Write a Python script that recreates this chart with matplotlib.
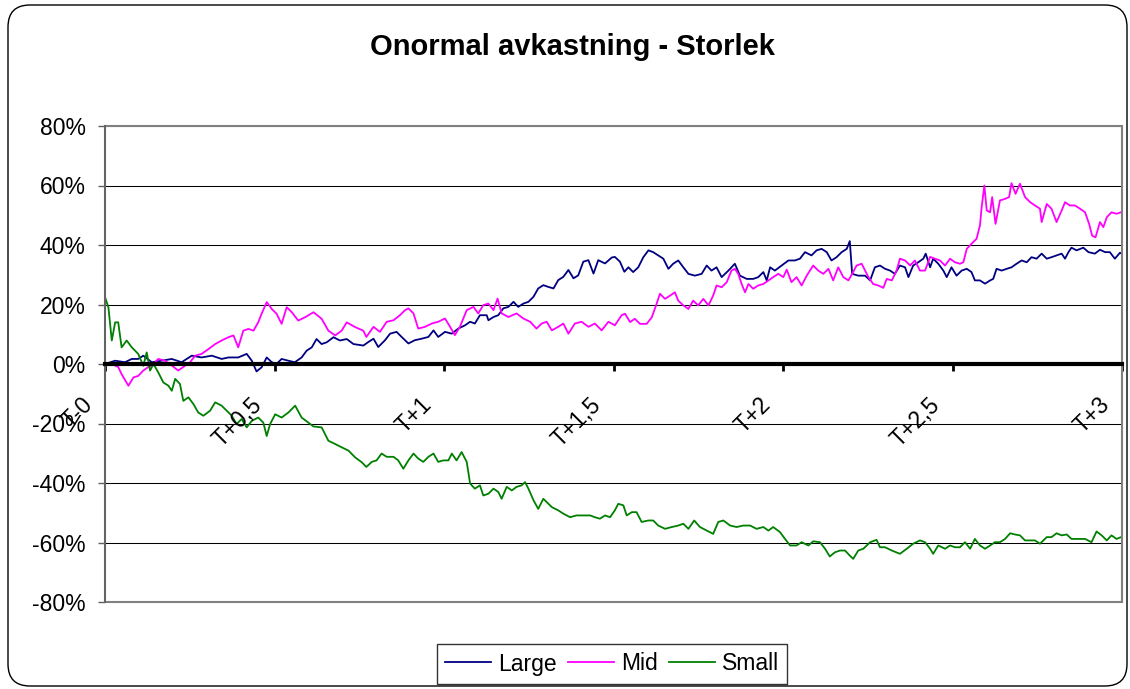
"""
Onormal avkastning - Storlek

Abnormal return after the event (T-0 .. T+3 years) for three size groups.
"""

import matplotlib.patches as mpatches
import matplotlib.pyplot as plt
from matplotlib.ticker import FuncFormatter

# ── Data (years after event, abnormal return in %) ───────────────────────────
LARGE_T = [
    0.000, 0.030, 0.059, 0.079, 0.098, 0.113, 0.138, 0.167, 0.197, 0.226,
    0.256, 0.285, 0.315, 0.344, 0.364, 0.393, 0.418, 0.433, 0.447, 0.462,
    0.477, 0.492, 0.506, 0.521, 0.541, 0.560, 0.580, 0.595, 0.610, 0.624,
    0.639, 0.654, 0.674, 0.693, 0.713, 0.733, 0.762, 0.777, 0.792, 0.806,
    0.826, 0.841, 0.860, 0.875, 0.895, 0.914, 0.934, 0.954, 0.969, 0.983,
    1.003, 1.023, 1.042, 1.062, 1.077, 1.091, 1.106, 1.126, 1.131, 1.146,
    1.160, 1.175, 1.190, 1.205, 1.219, 1.234, 1.249, 1.264, 1.278, 1.293,
    1.308, 1.323, 1.337, 1.352, 1.367, 1.382, 1.396, 1.411, 1.426, 1.441,
    1.455, 1.475, 1.495, 1.504, 1.519, 1.532, 1.544, 1.558, 1.573, 1.588,
    1.603, 1.617, 1.632, 1.647, 1.662, 1.676, 1.691, 1.706, 1.721, 1.740,
    1.760, 1.775, 1.789, 1.804, 1.819, 1.839, 1.858, 1.873, 1.893, 1.912,
    1.927, 1.942, 1.952, 1.962, 1.976, 1.996, 2.016, 2.035, 2.050, 2.065,
    2.084, 2.099, 2.114, 2.129, 2.143, 2.158, 2.173, 2.188, 2.197, 2.204,
    2.222, 2.242, 2.257, 2.271, 2.286, 2.301, 2.316, 2.330, 2.345, 2.360,
    2.370, 2.384, 2.399, 2.414, 2.421, 2.434, 2.443, 2.458, 2.473, 2.483,
    2.497, 2.512, 2.527, 2.542, 2.556, 2.566, 2.581, 2.596, 2.611, 2.620,
    2.630, 2.645, 2.660, 2.674, 2.689, 2.704, 2.719, 2.733, 2.748, 2.763,
    2.778, 2.792, 2.807, 2.822, 2.832, 2.842, 2.851, 2.866, 2.886, 2.901,
    2.920, 2.935, 2.950, 2.964, 2.979, 2.994, 3.000,
]
LARGE_V = [
    0.0, 1.1, 0.6, 1.7, 1.7, 2.8, 0.6, 1.1, 1.7, 0.6,
    2.8, 2.2, 2.8, 1.7, 2.2, 2.2, 3.4, 1.1, -2.5, -1.1,
    2.2, 0.6, 0.0, 1.7, 1.1, 0.6, 2.2, 4.5, 5.6, 8.4,
    6.7, 7.3, 9.0, 7.9, 8.4, 6.7, 6.2, 7.4, 8.5, 5.7,
    8.0, 10.2, 10.8, 9.1, 6.9, 8.0, 8.5, 9.1, 11.3, 9.1,
    10.8, 10.2, 11.9, 13.0, 14.2, 13.6, 16.4, 16.4, 14.7, 15.8,
    16.4, 18.7, 19.2, 20.9, 19.2, 20.3, 20.9, 22.6, 25.4, 26.5,
    25.9, 25.4, 28.2, 29.3, 31.6, 28.8, 29.8, 34.4, 34.9, 30.4,
    34.9, 33.8, 35.8, 36.0, 34.4, 31.0, 32.5, 30.9, 32.5, 35.9,
    38.2, 37.6, 36.5, 35.4, 32.0, 33.7, 34.8, 32.5, 30.3, 29.7,
    30.3, 33.1, 31.4, 32.5, 29.2, 31.4, 33.7, 29.7, 28.6, 28.6,
    29.2, 30.9, 28.1, 32.5, 31.4, 33.1, 34.8, 34.8, 35.4, 37.6,
    36.5, 38.2, 38.7, 37.6, 34.8, 35.9, 37.6, 38.7, 41.3, 30.3,
    29.7, 29.7, 28.1, 32.5, 33.1, 32.0, 31.4, 30.3, 33.1, 32.5,
    29.2, 33.1, 34.2, 35.4, 37.1, 32.5, 35.4, 33.7, 31.4, 29.2,
    32.5, 29.7, 31.4, 32.0, 30.9, 28.1, 28.1, 27.0, 28.1, 28.6,
    32.0, 31.4, 32.0, 32.5, 33.7, 34.8, 34.2, 35.9, 35.4, 37.1,
    35.4, 35.9, 36.5, 37.1, 35.4, 37.6, 39.1, 38.2, 39.1, 37.6,
    37.1, 38.4, 37.6, 37.6, 35.4, 37.4, 37.0,
]

MID_T = [
    0.000, 0.020, 0.039, 0.049, 0.069, 0.084, 0.098, 0.113, 0.128, 0.143,
    0.157, 0.177, 0.197, 0.216, 0.231, 0.251, 0.266, 0.285, 0.305, 0.325,
    0.344, 0.364, 0.379, 0.393, 0.408, 0.423, 0.438, 0.452, 0.462, 0.477,
    0.492, 0.506, 0.521, 0.536, 0.551, 0.570, 0.590, 0.615, 0.639, 0.659,
    0.679, 0.698, 0.713, 0.738, 0.762, 0.771, 0.792, 0.811, 0.831, 0.851,
    0.870, 0.885, 0.895, 0.910, 0.924, 0.944, 0.964, 0.983, 1.003, 1.018,
    1.032, 1.047, 1.067, 1.087, 1.101, 1.116, 1.131, 1.146, 1.158, 1.170,
    1.190, 1.214, 1.234, 1.254, 1.273, 1.288, 1.303, 1.318, 1.337, 1.352,
    1.367, 1.386, 1.406, 1.426, 1.445, 1.465, 1.485, 1.504, 1.524, 1.534,
    1.549, 1.563, 1.578, 1.598, 1.613, 1.627, 1.637, 1.652, 1.667, 1.681,
    1.691, 1.706, 1.721, 1.735, 1.750, 1.765, 1.780, 1.794, 1.804, 1.819,
    1.834, 1.848, 1.858, 1.868, 1.878, 1.888, 1.898, 1.912, 1.927, 1.942,
    1.957, 1.971, 1.986, 2.001, 2.011, 2.025, 2.040, 2.055, 2.070, 2.089,
    2.104, 2.119, 2.134, 2.148, 2.163, 2.178, 2.193, 2.207, 2.217, 2.232,
    2.252, 2.266, 2.281, 2.296, 2.306, 2.321, 2.335, 2.345, 2.360, 2.375,
    2.389, 2.404, 2.419, 2.434, 2.448, 2.463, 2.478, 2.493, 2.507, 2.522,
    2.532, 2.542, 2.556, 2.571, 2.581, 2.586, 2.594, 2.601, 2.611, 2.617,
    2.627, 2.640, 2.655, 2.667, 2.674, 2.686, 2.699, 2.714, 2.729, 2.743,
    2.758, 2.763, 2.778, 2.792, 2.807, 2.822, 2.832, 2.846, 2.861, 2.876,
    2.891, 2.903, 2.912, 2.922, 2.935, 2.945, 2.955, 2.969, 2.984, 2.997,
]
MID_V = [
    -0.5, 0.0, -1.0, -3.4, -7.3, -4.5, -4.0, -2.2, -1.0, 0.0,
    1.7, 1.1, -0.5, -2.2, -1.0, 0.6, 2.8, 3.4, 5.0, 6.7,
    7.9, 9.0, 9.6, 5.6, 11.2, 11.8, 11.2, 14.0, 16.9, 20.8,
    18.5, 16.9, 13.5, 19.1, 17.4, 14.6, 15.7, 17.4, 15.2, 11.2,
    9.6, 11.2, 14.0, 12.4, 11.2, 9.1, 12.5, 10.8, 14.2, 14.7,
    16.4, 18.1, 18.7, 17.0, 11.9, 12.5, 13.6, 14.2, 15.3, 12.5,
    9.7, 12.5, 18.1, 19.2, 17.0, 19.8, 20.3, 18.1, 22.0, 17.0,
    15.8, 17.0, 15.3, 14.2, 11.9, 13.6, 14.2, 11.3, 12.5, 13.6,
    10.2, 13.6, 14.2, 12.5, 13.6, 11.3, 14.2, 13.0, 16.4, 16.9,
    14.1, 15.2, 13.5, 13.5, 15.7, 20.2, 23.6, 21.9, 23.0, 24.1,
    21.3, 19.7, 18.5, 21.3, 19.7, 21.9, 19.7, 23.0, 26.4, 25.8,
    27.5, 31.4, 32.0, 30.3, 26.9, 24.1, 26.9, 25.3, 26.4, 26.9,
    28.1, 29.2, 30.3, 29.2, 31.7, 27.5, 29.2, 26.4, 29.7, 33.1,
    31.4, 30.3, 32.0, 28.1, 32.5, 29.2, 28.1, 30.9, 33.1, 33.7,
    29.2, 26.9, 26.4, 25.6, 28.6, 28.1, 31.4, 35.4, 34.8, 33.1,
    34.8, 31.4, 31.4, 36.0, 35.4, 34.8, 33.1, 35.4, 34.2, 33.7,
    34.2, 38.7, 40.4, 42.1, 46.6, 52.7, 60.0, 51.6, 51.0, 56.1,
    47.1, 55.0, 55.5, 56.1, 60.8, 57.2, 60.6, 56.1, 54.4, 53.3,
    52.2, 47.7, 53.8, 52.2, 47.7, 51.6, 54.4, 53.3, 53.3, 52.2,
    51.0, 47.1, 43.1, 42.6, 47.7, 46.0, 49.3, 51.0, 50.5, 51.0,
]

SMALL_T = [
    0.000, 0.010, 0.020, 0.030, 0.039, 0.049, 0.064, 0.079, 0.098, 0.113,
    0.123, 0.133, 0.143, 0.157, 0.172, 0.187, 0.197, 0.207, 0.221, 0.231,
    0.246, 0.261, 0.275, 0.290, 0.310, 0.325, 0.344, 0.359, 0.374, 0.388,
    0.403, 0.418, 0.433, 0.452, 0.467, 0.477, 0.487, 0.502, 0.521, 0.541,
    0.561, 0.580, 0.600, 0.615, 0.639, 0.659, 0.679, 0.698, 0.718, 0.738,
    0.757, 0.771, 0.787, 0.801, 0.816, 0.831, 0.851, 0.865, 0.880, 0.895,
    0.910, 0.924, 0.939, 0.954, 0.969, 0.983, 0.998, 1.013, 1.023, 1.037,
    1.052, 1.067, 1.077, 1.091, 1.106, 1.116, 1.131, 1.146, 1.160, 1.170,
    1.185, 1.200, 1.214, 1.229, 1.239, 1.249, 1.264, 1.278, 1.293, 1.303,
    1.318, 1.337, 1.352, 1.372, 1.391, 1.411, 1.431, 1.445, 1.460, 1.475,
    1.490, 1.504, 1.514, 1.529, 1.539, 1.554, 1.568, 1.583, 1.603, 1.617,
    1.632, 1.652, 1.672, 1.691, 1.706, 1.721, 1.738, 1.755, 1.775, 1.794,
    1.809, 1.824, 1.844, 1.863, 1.883, 1.903, 1.922, 1.942, 1.957, 1.971,
    1.991, 2.006, 2.021, 2.040, 2.055, 2.075, 2.089, 2.109, 2.124, 2.138,
    2.153, 2.168, 2.183, 2.197, 2.207, 2.222, 2.237, 2.257, 2.276, 2.286,
    2.301, 2.321, 2.345, 2.365, 2.384, 2.404, 2.419, 2.434, 2.443, 2.458,
    2.478, 2.493, 2.507, 2.522, 2.537, 2.552, 2.566, 2.581, 2.596, 2.611,
    2.625, 2.640, 2.655, 2.670, 2.684, 2.699, 2.714, 2.729, 2.743, 2.758,
    2.778, 2.792, 2.807, 2.822, 2.837, 2.851, 2.871, 2.891, 2.910, 2.925,
    2.940, 2.955, 2.969, 2.984, 2.997,
]
SMALL_V = [
    22.5, 19.1, 7.9, 14.0, 14.0, 5.6, 7.9, 5.6, 3.4, -0.6,
    3.9, -2.2, 0.0, -2.8, -6.2, -7.3, -9.0, -5.0, -6.7, -12.4,
    -11.2, -13.5, -16.3, -17.4, -15.7, -12.9, -14.0, -15.7, -17.4, -20.2,
    -18.5, -21.3, -19.1, -18.0, -19.7, -24.2, -20.2, -16.9, -18.0, -16.3,
    -14.0, -18.0, -19.7, -21.0, -21.3, -25.8, -26.9, -28.0, -29.1, -31.4,
    -33.0, -34.6, -32.9, -32.4, -30.1, -31.2, -31.2, -32.4, -35.2, -32.4,
    -30.1, -31.8, -32.9, -31.2, -30.1, -32.9, -32.4, -32.4, -30.1, -32.4,
    -29.6, -32.9, -40.2, -41.9, -40.8, -44.2, -43.6, -41.9, -43.0, -45.3,
    -41.3, -42.5, -41.3, -40.8, -39.7, -41.9, -45.8, -48.7, -45.3, -46.4,
    -48.1, -49.2, -50.3, -51.5, -50.9, -50.9, -50.9, -51.5, -52.0, -50.9,
    -51.5, -49.2, -47.0, -47.5, -50.9, -49.8, -49.8, -53.1, -52.6, -52.6,
    -54.3, -55.4, -54.8, -54.3, -53.7, -55.4, -52.6, -54.8, -56.0, -57.1,
    -53.1, -52.6, -54.3, -54.8, -54.3, -54.3, -55.4, -54.8, -56.0, -54.8,
    -56.5, -58.8, -61.0, -61.0, -59.9, -61.0, -59.6, -59.9, -62.1, -64.7,
    -63.3, -62.7, -62.7, -64.4, -65.5, -62.7, -62.1, -59.9, -59.1, -61.6,
    -61.6, -62.7, -63.8, -62.1, -60.4, -59.3, -59.9, -62.1, -63.8, -61.0,
    -62.1, -61.0, -61.6, -61.6, -59.9, -62.1, -58.8, -61.0, -62.1, -61.0,
    -59.9, -59.9, -58.8, -56.9, -57.3, -57.6, -59.3, -59.3, -59.3, -60.4,
    -58.2, -58.2, -56.9, -57.6, -57.3, -58.8, -58.8, -58.8, -59.9, -56.3,
    -57.6, -59.3, -57.6, -58.8, -58.2,
]

X_TICKS = [0, 0.5, 1, 1.5, 2, 2.5, 3]
X_LABELS = ["T-0", "T+0,5", "T+1", "T+1,5", "T+2", "T+2,5", "T+3"]
Y_TICKS = [-80, -60, -40, -20, 0, 20, 40, 60, 80]

TITLE = "Onormal avkastning - Storlek"

# ── Style ─────────────────────────────────────────────────────────────────────
W_PX, H_PX = 1130, 689
SERIES = [
    ("Large", LARGE_T, LARGE_V, "#000080"),
    ("Mid",   MID_T,   MID_V,   "#FF00FF"),
    ("Small", SMALL_T, SMALL_V, "#008000"),
]
FONT_SIZE = 16.5
BORDER_GREY = "#808080"

plt.rcParams["font.family"] = ["Liberation Sans", "DejaVu Sans"]


def draw_chart_frame(fig) -> None:
    # rounded outer border of the chart area (Excel style), in inches
    frame = mpatches.FancyBboxPatch(
        (0.08, 0.03), 11.19, 6.81,
        boxstyle="round,pad=0,rounding_size=0.22",
        transform=fig.dpi_scale_trans, fill=False, ec="black", lw=1.0,
    )
    fig.patches.append(frame)


def main() -> None:
    fig = plt.figure(figsize=(W_PX / 100, H_PX / 100), dpi=100)
    draw_chart_frame(fig)

    ax = fig.add_axes([105 / W_PX, 87 / H_PX, 1017 / W_PX, 476 / H_PX])

    for name, t, v, color in SERIES:
        ax.plot(t, v, color=color, lw=1.3, label=name)

    ax.set_xlim(0, 3)
    ax.set_ylim(-80, 80)

    # y axis: percent labels, black gridlines
    ax.set_yticks(Y_TICKS)
    ax.yaxis.set_major_formatter(FuncFormatter(lambda v, _: f"{v:.0f}%"))
    ax.yaxis.grid(True, color="black", lw=0.75)
    ax.set_axisbelow(True)
    ax.tick_params(axis="y", direction="out", length=5, width=1,
                   color="#606060", labelsize=FONT_SIZE, pad=9)

    # x axis sits on the 0% line, thick black
    ax.spines["bottom"].set_position(("data", 0))
    ax.spines["bottom"].set_linewidth(3)
    ax.spines["bottom"].set_color("black")
    ax.spines["left"].set_color("#606060")
    ax.spines["left"].set_linewidth(1.3)
    ax.spines["top"].set_visible(False)
    ax.spines["right"].set_visible(False)
    ax.add_patch(mpatches.Rectangle((0, 0), 1, 1, transform=ax.transAxes,
                                    fill=False, ec=BORDER_GREY, lw=1.5,
                                    clip_on=False, zorder=2.4))

    ax.set_xticks(X_TICKS)
    ax.tick_params(axis="x", direction="out", length=5, width=2,
                   color="black", labelbottom=False)
    for pos, lab in zip(X_TICKS, X_LABELS):
        ax.annotate(lab, xy=(pos, 0), xytext=(-5.5, -21), textcoords="offset points",
                    rotation=45, ha="right", va="top", fontsize=FONT_SIZE,
                    annotation_clip=False)

    fig.text(0.507, 1 - 47 / H_PX, TITLE, ha="center", va="center",
             fontsize=21, fontweight="bold")

    leg = fig.legend(
        loc="center", bbox_to_anchor=(612 / W_PX, 25 / H_PX), ncol=3,
        fontsize=FONT_SIZE, frameon=True, fancybox=False, edgecolor="black",
        handlelength=2.0, handletextpad=0.3, columnspacing=0.5, borderpad=0.35,
    )
    leg.get_frame().set_linewidth(1.0)

    fig.savefig("out.png", dpi=100, facecolor="white")


if __name__ == "__main__":
    main()
